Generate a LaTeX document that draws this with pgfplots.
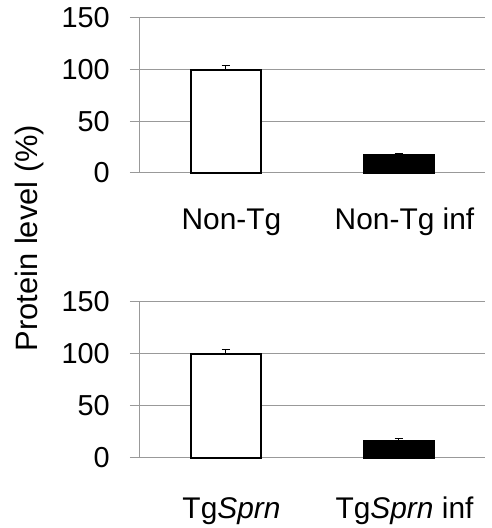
\documentclass[border=0pt]{standalone}
\usepackage{fontspec}
\setmainfont{Liberation Sans}
\usepackage{pgfplots}
\pgfplotsset{compat=1.18}

\pgfplotsset{
  panel/.style={
    scale only axis, width=346bp,
    xmin=-0.5, xmax=1.5, ymin=0, ymax=150,
    ytick={0,50,100,150},
    axis x line*=bottom, axis y line*=left,
    axis line style={gray!80, line width=1bp},
    grid style={gray!80, line width=1bp},
    ymajorgrids,
    tick align=outside,
    major tick length=9bp, minor tick length=9bp,
    every tick/.style={gray!80, line width=1bp},
    xtick={0,1}, minor xtick={-0.5,0.5,1.5},
    xtick style={draw=none},
    /pgf/number format/assume math mode=true,
    yticklabel style={font=\fontsize{29}{33}\selectfont, anchor=east, inner sep=0pt, xshift=-20bp},
    xticklabel style={font=\fontsize{30}{34}\selectfont, anchor=base, inner sep=0pt, xshift=6bp},
    ybar, bar width=70bp, bar shift=0pt,
    clip=false,
  },
  barw/.style={draw=black, fill=white, line width=2bp,
    error bars/.cd, y dir=plus, y explicit,
    error bar style={black, line width=1.2bp},
    error mark options={black, line width=1.2bp, mark size=4bp, rotate=90}},
  barb/.style={draw=black, fill=black, line width=2bp,
    error bars/.cd, y dir=plus, y explicit,
    error bar style={black, line width=1.2bp},
    error mark options={black, line width=1.2bp, mark size=4bp, rotate=90}},
}

\begin{document}
\begin{tikzpicture}
\path (0,0) rectangle (492bp,528bp);

\begin{axis}[panel, at={(139bp,355bp)}, anchor=south west, height=155bp,
  xticklabels={Non-Tg, Non-Tg inf},
  xticklabel style={yshift=-48bp}]
\addplot[barw] coordinates {(0,100) +- (0,4)};
\addplot[barb] coordinates {(1,17) +- (0,1.5)};
\end{axis}

\begin{axis}[panel, at={(139bp,70bp)}, anchor=south west, height=156bp,
  xticklabels={Tg\textit{Sprn}, Tg\textit{Sprn} inf},
  xticklabel style={yshift=-51bp}]
\addplot[barw] coordinates {(0,100) +- (0,4)};
\addplot[barb] coordinates {(1,16.5) +- (0,2)};
\end{axis}

\node[rotate=90, font=\fontsize{31}{35}\selectfont] at (30bp,290bp) {Protein level (\%)};
\end{tikzpicture}
\end{document}
